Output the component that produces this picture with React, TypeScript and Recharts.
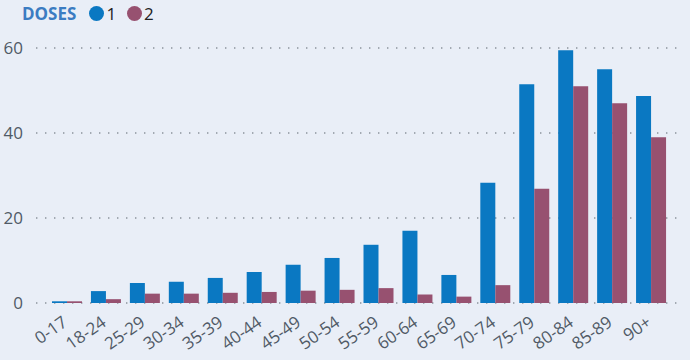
import React from "react";
import { BarChart, Bar, XAxis, YAxis, CartesianGrid } from "recharts";

const categories = ["0-17","18-24","25-29","30-34","35-39","40-44","45-49","50-54","55-59","60-64","65-69","70-74","75-79","80-84","85-89","90+"];
const dose1 = [0.4, 2.8, 4.7, 5.0, 5.9, 7.3, 9.0, 10.6, 13.7, 17.0, 6.6, 28.3, 51.5, 59.5, 55.0, 48.7];
const dose2 = [0.4, 0.9, 2.2, 2.2, 2.4, 2.6, 2.9, 3.1, 3.5, 2.0, 1.5, 4.2, 26.9, 51.0, 47.0, 39.0];
const yTicks = [0, 20, 40, 60];
const seriesNames = ["1", "2"];
const legendTitle = "DOSES";

const BLUE = "#0a78c2";
const RED = "#975170";
const BG = "#e9eef7";
const TEXT = "#505a66";

const data = categories.map((c, i) => ({ cat: c, d1: dose1[i], d2: dose2[i] }));

const FONT = "'Open Sans', sans-serif";

export default function App() {
  return (
    <div style={{ position: "relative", width: 690, height: 360, background: BG, fontFamily: FONT }}>
      <style>{`body{margin:0;}`}</style>
      <div style={{ position: "absolute", left: 22, top: 2, display: "flex", alignItems: "center", zIndex: 2, fontSize: 17, color: "#222" }}>
        <span style={{ fontWeight: 700, color: "#3b7cc2", marginRight: 13 }}>{legendTitle}</span>
        <span style={{ width: 15, height: 15, borderRadius: "50%", background: BLUE, display: "inline-block", marginRight: 2 }} />
        <span style={{ marginRight: 11 }}>{seriesNames[0]}</span>
        <span style={{ width: 15, height: 15, borderRadius: "50%", background: RED, display: "inline-block", marginRight: 2 }} />
        <span>{seriesNames[1]}</span>
      </div>
      <BarChart
        width={690}
        height={360}
        data={data}
        margin={{ top: 48, right: 7, bottom: 0, left: 0 }}
        barGap={0}
        barSize={15}
      >
        <CartesianGrid horizontal vertical={false} stroke="#8a929c" strokeWidth={1.4} strokeDasharray="1.4 7.6" />
        <XAxis
          dataKey="cat"
          interval={0}
          padding={{ left: 12, right: 12 }}
          axisLine={false}
          tickLine={false}
          height={57}
          angle={-35}
          textAnchor="end"
          tick={{ fill: TEXT, fontSize: 17, fontFamily: FONT, dx: -6, dy: 4 }}
        />
        <YAxis
          domain={[0, 60]}
          ticks={yTicks}
          width={36}
          axisLine={false}
          tickLine={false}
          tickSize={0}
          tickMargin={13}
          tick={{ fill: TEXT, fontSize: 17, fontFamily: FONT }}
        />
        <Bar dataKey="d1" fill={BLUE} isAnimationActive={false} />
        <Bar dataKey="d2" fill={RED} isAnimationActive={false} />
      </BarChart>
    </div>
  );
}
